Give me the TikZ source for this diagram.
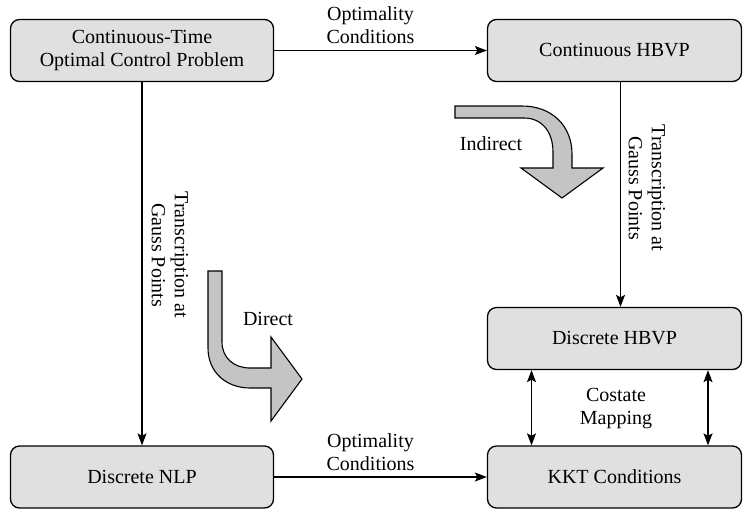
\documentclass[tikz,border=0pt]{standalone}
\usepackage{fontspec}
\setmainfont{Liberation Serif}
\usetikzlibrary{arrows.meta}
\definecolor{boxgray}{RGB}{224,224,224}
\definecolor{arrowgray}{RGB}{196,196,196}
\begin{document}
\begin{tikzpicture}[x=1pt,y=-1pt,>={Stealth[length=12pt,width=9pt,inset=2.5pt]},
  font=\fontsize{20}{23}\selectfont,
  box/.style={draw,line width=1.3pt,rounded corners=9pt,fill=boxgray,align=center,inner sep=0pt,minimum height=62pt},
  flow/.style={->,line width=1.3pt},
  bigarrow/.style={draw,line width=1.1pt,fill=arrowgray},
  lbl/.style={align=center,inner sep=0pt}]
\useasboundingbox (0,0) rectangle (743,509);

\node[box,minimum width=263pt] (ocp) at (142,50.5) {Continuous-Time\\Optimal Control Problem};
\node[box,minimum width=254pt] (chbvp) at (614.5,50.5) {Continuous HBVP};
\node[box,minimum width=254pt] (dhbvp) at (614.5,338.5) {Discrete HBVP};
\node[box,minimum width=254pt] (kkt) at (614.5,477) {KKT Conditions};
\node[box,minimum width=263pt] (nlp) at (142,477) {Discrete NLP};

\draw[flow] (ocp) -- node[lbl,above=6pt,xshift=-10pt] {Optimality\\Conditions} (chbvp);
\draw[flow] (nlp) -- node[lbl,above=6pt,xshift=-10pt] {Optimality\\Conditions} (kkt);
\draw[flow] (ocp) -- (nlp);
\draw[flow] ([xshift=6pt]chbvp.south) -- ([xshift=6pt]dhbvp.north);
\draw[<->,line width=1.3pt] ([xshift=-83pt]dhbvp.south) -- ([xshift=-83pt]kkt.north);
\draw[<->,line width=1.3pt] ([xshift=93.5pt]dhbvp.south) -- ([xshift=93.5pt]kkt.north);

\node[lbl,rotate=-90] (gauss1) at (170,255) {Transcription at\\Gauss Points};
\node[lbl,rotate=-90] (gauss2) at (647,188) {Transcription at\\Gauss Points};
\node[lbl] (costate) at (616,409) {Costate\\Mapping};

\draw[bigarrow] (455,106) -- (522,106) .. controls (552,106) and (572,126) .. (572,154)
  -- (572,168) -- (603,168) -- (562,198) -- (521,168) -- (553,168) -- (553,152)
  .. controls (553,132) and (542,118) .. (524,118) -- (455,118) -- cycle;
\node[lbl] (indirect) at (491,144) {Indirect};

\draw[bigarrow] (222,271) -- (208,271) -- (208,348) .. controls (208,372) and (226,388) .. (250,388)
  -- (271,388) -- (271,421) -- (302,379) -- (271,337) -- (271,368) -- (250,368)
  .. controls (234,368) and (222,358) .. (222,342) -- cycle;
\node[lbl] (direct) at (268,319) {Direct};
\end{tikzpicture}
\end{document}
